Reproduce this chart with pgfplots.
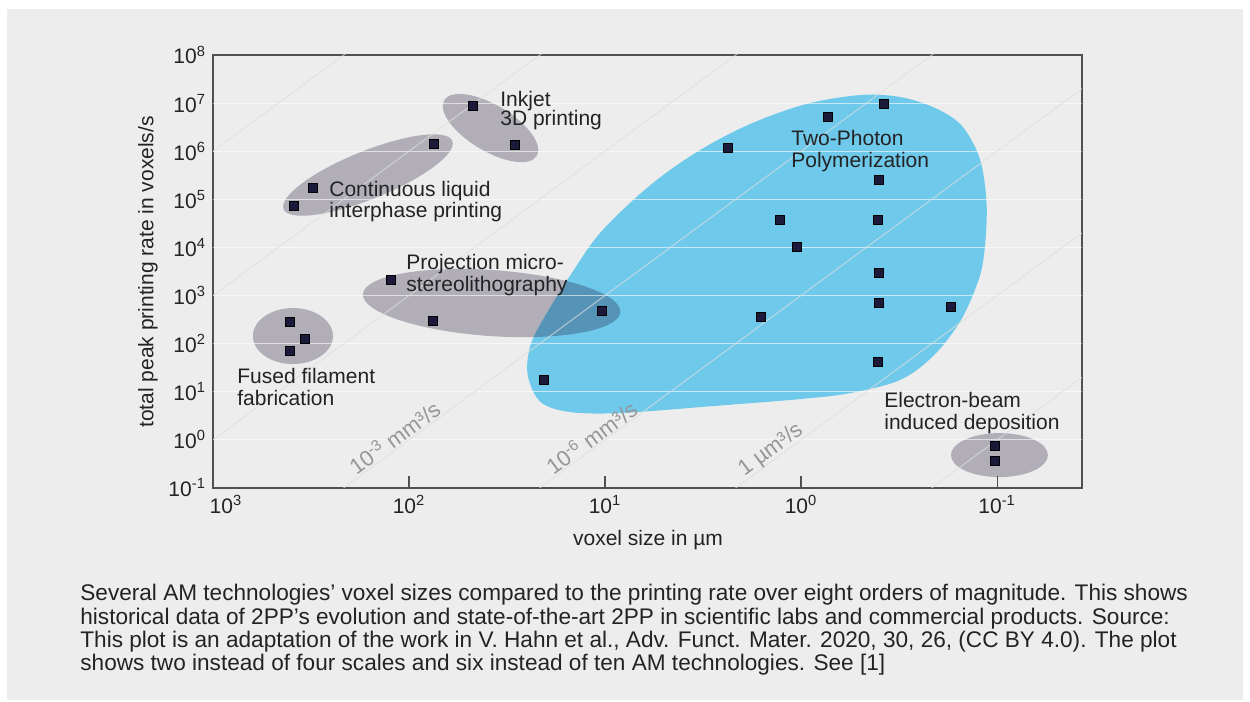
\documentclass[border=0pt]{standalone}
\usepackage{pgfplots}
\pgfplotsset{compat=1.18}
\usepackage{fontspec}
\setmainfont{Liberation Sans}
\definecolor{panel}{RGB}{237,237,237}
\definecolor{tpp}{RGB}{110,201,235}
\definecolor{ell}{RGB}{25,12,50}
\definecolor{mk}{RGB}{28,26,58}
\definecolor{axc}{RGB}{80,80,80}
\definecolor{txt}{RGB}{35,35,35}
\definecolor{dlab}{RGB}{150,150,150}
\definecolor{diag}{RGB}{222,222,222}
\newcommand{\lf}{\fontsize{10.5}{12}\selectfont}
\begin{document}
\begin{tikzpicture}[x=1pt,y=1pt]
\fill[white] (0,0) rectangle (625,351);
\fill[panel] (3.5,1) rectangle (621.5,346.5);
\begin{axis}[
  at={(106.5pt,107pt)}, anchor=south west, scale only axis,
  width=434.5pt, height=216.5pt,
  xmode=log, ymode=log, x dir=reverse,
  xmin=0.0369, xmax=1000, ymin=0.1, ymax=1e8,
  xtick={1000,100,10,1,0.1},
  xticklabels={\hspace*{13pt}10\textsuperscript{3},10\textsuperscript{2},10\textsuperscript{1},10\textsuperscript{0},10\textsuperscript{-1}},
  ytick={0.1,1,10,100,1000,1e4,1e5,1e6,1e7,1e8},
  yticklabels={10\textsuperscript{-1},10\textsuperscript{0},10\textsuperscript{1},10\textsuperscript{2},10\textsuperscript{3},10\textsuperscript{4},10\textsuperscript{5},10\textsuperscript{6},10\textsuperscript{7},10\textsuperscript{8}},
  minor xtick={}, minor ytick={},
  tick align=inside, xtick pos=left, major tick length=6pt,
  xtick style={color=axc, line width=0.6pt},
  ytick style={draw=none},
  axis line style={axc, line width=0.75pt},
  ticklabel style={font=\lf, text=txt},
  clip=true,
]
% Two-photon polymerization region
\addplot[fill=tpp, draw=none, smooth, tension=0.55, forget plot] coordinates {
 (3.27,4.81) (1.01,7.05) (0.562,9.40) (0.313,17.5) (0.212,55.2) (0.155,281)
 (0.127,1650) (0.117,6310) (0.113,6.92e4) (0.122,6.56e5) (0.151,3.34e6)
 (0.207,7.91e6) (0.313,1.34e7) (0.500,1.47e7) (0.942,9.57e6) (1.82,3.67e6)
 (3.27,1.06e6) (5.87,1.98e5) (10.5,2.09e4) (15.0,2670) (20.1,394) (24.0,93.5)
 (24.8,22.2) (21.3,6.11) (15.0,3.78) (8.35,3.61) (3.27,4.81)};
% technology ellipses
\fill[ell, opacity=0.28] (axis cs:391,144) ellipse [x radius=20pt, y radius=14pt];
\fill[ell, opacity=0.28] (axis cs:162,3.2e5) ellipse [x radius=45.5pt, y radius=12pt, rotate=22];
\fill[ell, opacity=0.28] (axis cs:38.4,3.03e6) ellipse [x radius=27pt, y radius=11.5pt, rotate=-31];
\fill[ell, opacity=0.28] (axis cs:37.9,698) ellipse [x radius=64.5pt, y radius=16.5pt, rotate=-4];
\fill[ell, opacity=0.28] (axis cs:0.0973,0.483) ellipse [x radius=24.25pt, y radius=11pt];
% horizontal grid
\addplot[white, opacity=0.6, line width=0.5pt, forget plot] coordinates {(1000,1) (0.0369,1)};
\addplot[white, opacity=0.6, line width=0.5pt, forget plot] coordinates {(1000,10) (0.0369,10)};
\addplot[white, opacity=0.6, line width=0.5pt, forget plot] coordinates {(1000,100) (0.0369,100)};
\addplot[white, opacity=0.6, line width=0.5pt, forget plot] coordinates {(1000,1000) (0.0369,1000)};
\addplot[white, opacity=0.6, line width=0.5pt, forget plot] coordinates {(1000,1e4) (0.0369,1e4)};
\addplot[white, opacity=0.6, line width=0.5pt, forget plot] coordinates {(1000,1e5) (0.0369,1e5)};
\addplot[white, opacity=0.6, line width=0.5pt, forget plot] coordinates {(1000,1e6) (0.0369,1e6)};
\addplot[white, opacity=0.6, line width=0.5pt, forget plot] coordinates {(1000,1e7) (0.0369,1e7)};
% constant volume-rate lines
\addplot[diag, opacity=0.7, line width=0.5pt, forget plot] coordinates {(1000,1e-12) (0.0369,19.95)};
\addplot[diag, opacity=0.7, line width=0.5pt, forget plot] coordinates {(1000,1e-9) (0.0369,1.995e4)};
\addplot[diag, opacity=0.7, line width=0.5pt, forget plot] coordinates {(1000,1e-6) (0.0369,1.995e7)};
\addplot[diag, opacity=0.7, line width=0.5pt, forget plot] coordinates {(1000,1e-3) (0.0369,1.995e10)};
\addplot[diag, opacity=0.7, line width=0.5pt, forget plot] coordinates {(1000,1) (0.0369,1.995e13)};
\addplot[diag, opacity=0.7, line width=0.5pt, forget plot] coordinates {(1000,1e3) (0.0369,1.995e16)};
\addplot[diag, opacity=0.7, line width=0.5pt, forget plot] coordinates {(1000,1e6) (0.0369,1.995e19)};
% data points
\addplot[only marks, mark=square*, mark size=2.25pt, mark options={fill=mk, draw=none}] coordinates {
 (405,281) (340,125) (405,70)
 (386,72600) (310,172000) (74.8,1.41e6)
 (47.3,8.7e6) (29,1.35e6)
 (124,2100) (75.7,295) (10.4,476)
 (20.4,17.5) (2.35,1.17e6) (0.728,5.14e6) (0.378,9.6e6) (0.40,2.52e5)
 (1.29,3.72e4) (0.405,3.72e4) (1.05,1.02e4) (0.40,2940) (0.40,698)
 (0.172,577) (1.61,357) (0.405,41.4)
 (0.1026,0.743) (0.1026,0.362)};
\end{axis}
% axis labels
\node[font=\lf, text=txt] at (324,81) {voxel size in µm};
\node[font=\lf, text=txt, rotate=90] at (74,215) {total peak printing rate in voxels/s};
% region labels
\begin{scope}[every node/.style={font=\lf, text=txt, inner sep=0pt, anchor=base west}]
\node at (250,297.5) {Inkjet};
\node at (250,288) {3D printing};
\node at (164.5,252.5) {Continuous liquid};
\node at (164.5,242) {interphase printing};
\node at (203,216) {Projection micro-};
\node at (203,205) {stereolithography};
\node at (118.5,159) {Fused filament};
\node at (118.5,148) {fabrication};
\node at (395.5,278) {Two-Photon};
\node at (395.5,267) {Polymerization};
\node at (442,147) {Electron-beam};
\node at (442,136) {induced deposition};
\end{scope}
\begin{scope}[every node/.style={font=\fontsize{11}{13}\selectfont, text=dlab, inner sep=0pt, rotate=36.3}]
\node at (197,132.5) {10\textsuperscript{-3} mm³/s};
\node at (295.5,132.5) {10\textsuperscript{-6} mm³/s};
\node at (385.5,126) {1 µm³/s};
\end{scope}
% caption
\begin{scope}[every node/.style={font=\fontsize{11.3}{13}\selectfont, text=txt, inner sep=0pt, anchor=base west}]
\node at (40,50.5) {Several AM technologies’ voxel sizes compared to the printing rate over eight orders of magnitude. This shows};
\node at (40,38.5) {historical data of 2PP’s evolution and state-of-the-art 2PP in scientific labs and commercial products. Source:};
\node at (40,27) {This plot is an adaptation of the work in V. Hahn et al., Adv. Funct. Mater. 2020, 30, 26, (CC BY 4.0). The plot};
\node at (40,15.5) {shows two instead of four scales and six instead of ten AM technologies. See [1]};
\end{scope}
\end{tikzpicture}
\end{document}
